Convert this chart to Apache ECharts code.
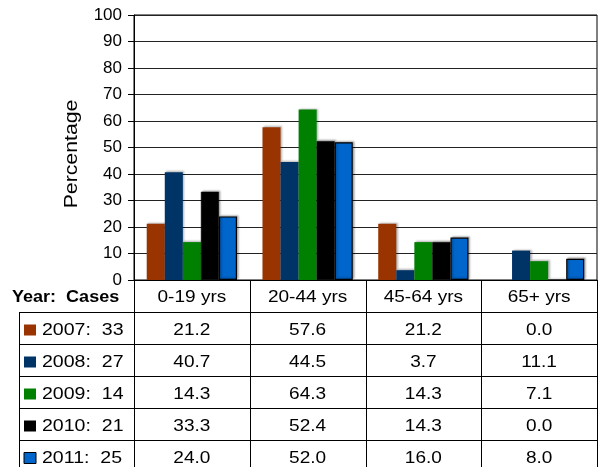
<!DOCTYPE html>
<html>
<head>
<meta charset="utf-8">
<script src="https://cdn.jsdelivr.net/npm/echarts@6/dist/echarts.min.js"></script>
<style>
  html, body { margin: 0; padding: 0; background: #fff; }
  #chart { width: 602px; height: 467px; }
</style>
</head>
<body>
<div id="chart"></div>
<script>
// Age groups (columns) and per-year percentages
const ageGroups = ['0-19 yrs', '20-44 yrs', '45-64 yrs', '65+ yrs'];
const years = ['2007', '2008', '2009', '2010', '2011'];
const cases = [33, 27, 14, 21, 25];
const yearColors = ['#993300', '#003366', '#008000', '#000000', '#0066CC'];

const pct2007 = [21.2, 57.6, 21.2, 0.0];
const pct2008 = [40.7, 44.5, 3.7, 11.1];
const pct2009 = [14.3, 64.3, 14.3, 7.1];
const pct2010 = [33.3, 52.4, 14.3, 0.0];
const pct2011 = [24.0, 52.0, 16.0, 8.0];
const seriesValues = [pct2007, pct2008, pct2009, pct2010, pct2011];

const yTicks = { min: 0, max: 100, interval: 10 };

const FONT = 'Liberation Sans, Arial, sans-serif';
const TEXT_STRETCH = 1.12;

const chart = echarts.init(document.getElementById('chart'), null, { renderer: 'canvas' });

const series = years.map((yr, i) => ({
  name: yr,
  type: 'bar',
  data: seriesValues[i],
  barGap: '0%',
  barCategoryGap: '22%',
  itemStyle: {
    color: yearColors[i],
    borderColor: '#000',
    borderWidth: i === 4 ? 1.2 : (i === 3 ? 0.6 : 0),
    shadowColor: 'rgba(0,0,0,0.3)',
    shadowBlur: 2,
    shadowOffsetX: 1.5,
    shadowOffsetY: -1
  },
  emphasis: { disabled: true },
  animation: false
}));

chart.setOption({
  animation: false,
  grid: {
    left: 134, right: 5, top: 15, bottom: 187,
    show: true, borderColor: '#000', borderWidth: 1, backgroundColor: 'transparent'
  },
  xAxis: {
    type: 'category',
    data: ageGroups,
    axisLine: { lineStyle: { color: '#000', width: 1 } },
    axisTick: { show: false },
    axisLabel: { show: false }
  },
  yAxis: {
    type: 'value',
    min: yTicks.min, max: yTicks.max, interval: yTicks.interval,
    axisLine: { show: true, lineStyle: { color: '#000', width: 1 } },
    axisTick: { show: true, length: 6, lineStyle: { color: '#000' } },
    axisLabel: { color: '#000', fontFamily: FONT, fontSize: 17, margin: 12 },
    splitLine: { lineStyle: { color: '#222', width: 1 } }
  },
  series: series
});

// Data table under the chart, aligned with the category bands
function drawTable() {
  const c0 = chart.convertToPixel({ xAxisIndex: 0 }, ageGroups[0]);
  const c1 = chart.convertToPixel({ xAxisIndex: 0 }, ageGroups[1]);
  const band = c1 - c0;
  const left = c0 - band / 2;
  const axisY = chart.convertToPixel({ yAxisIndex: 0 }, 0);
  const rowH = 32;
  const headerBottom = axisY + 32;
  const tableLeft = 19;
  const bottom = 480;
  const right = left + band * ageGroups.length;
  const els = [];
  const line = (x1, y1, x2, y2) => els.push({
    type: 'line', shape: { x1, y1, x2, y2 },
    style: { stroke: '#000', lineWidth: 1 }, silent: true
  });
  const label = (text, x, y, align, bold, stretch) => els.push({
    type: 'text', silent: true,
    x: x, y: y, scaleX: stretch || TEXT_STRETCH,
    style: {
      text: text, x: 0, y: 0,
      fill: '#000', font: (bold ? 'bold ' : '') + '17px ' + FONT,
      align: align, verticalAlign: 'middle'
    }
  });

  // vertical lines
  for (let k = 0; k <= ageGroups.length; k++) {
    const x = Math.round(left + band * k) + 0.5;
    line(x, axisY, x, bottom);
  }
  line(tableLeft + 0.5, headerBottom, tableLeft + 0.5, bottom);
  // horizontal lines
  for (let r = 0; r < years.length; r++) {
    const y = Math.round(headerBottom + rowH * r) + 0.5;
    line(tableLeft, y, right, y);
  }

  // header row
  label('Year:  Cases', 12, axisY + 17, 'left', true, 1.06);
  ageGroups.forEach((g, k) => label(g, left + band * (k + 0.5), axisY + 17, 'center', false));

  years.forEach((yr, r) => {
    const cy = headerBottom + rowH * r + rowH / 2 + 2;
    els.push({
      type: 'rect', silent: true,
      shape: { x: 24, y: cy - 5.5, width: 12, height: 11 },
      style: { fill: yearColors[r], stroke: r === 4 ? '#000' : null, lineWidth: 1 }
    });
    label(yr + ':  ' + cases[r], 42, cy, 'left', false, 1.15);
    seriesValues[r].forEach((v, k) => label(v.toFixed(1), left + band * (k + 0.5), cy, 'center', false));
  });

  // y-axis title
  els.push({
    type: 'text', silent: true,
    x: 72, y: 154, rotation: Math.PI / 2, scaleX: 1.18,
    style: {
      text: 'Percentage', x: 0, y: 0,
      fill: '#000', font: '18px ' + FONT,
      align: 'center', verticalAlign: 'middle'
    }
  });

  chart.setOption({ graphic: { elements: els } });
}
drawTable();
</script>
</body>
</html>
